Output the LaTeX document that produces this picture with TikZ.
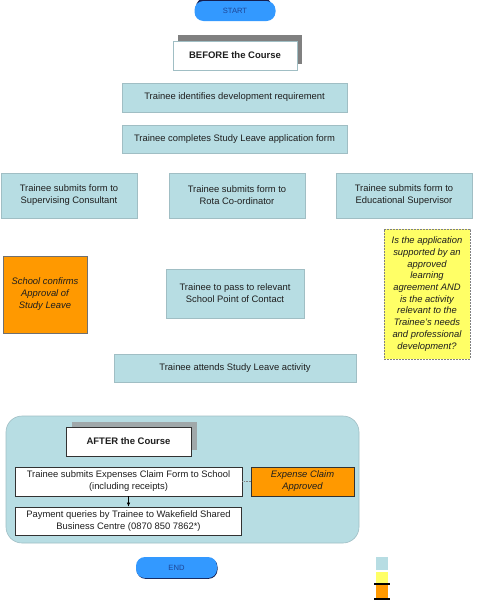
\documentclass[tikz,border=0pt]{standalone}
\usepackage{fontspec}
\setmainfont{Liberation Sans}
\usetikzlibrary{arrows.meta}
\definecolor{lblue}{RGB}{183,221,227}
\definecolor{lbborder}{RGB}{160,190,196}
\definecolor{orng}{RGB}{255,153,0}
\definecolor{yel}{RGB}{255,255,102}
\definecolor{startblue}{RGB}{51,153,255}
\definecolor{starttext}{RGB}{30,70,150}
\definecolor{navy}{RGB}{20,30,80}
\definecolor{shadowgray}{RGB}{128,128,128}
\definecolor{shadowgray2}{RGB}{160,168,170}
\definecolor{txt}{RGB}{30,30,30}
\definecolor{darkborder}{RGB}{50,50,50}
\begin{document}
\begin{tikzpicture}[x=1pt,y=-1pt,
  base/.style={inner sep=0pt, align=center, font=\fontsize{9.4}{12}\selectfont, text=txt},
  bluebox/.style={base, fill=lblue, draw=lbborder, line width=0.6pt},
  whitebox/.style={base, fill=white, draw=darkborder, line width=0.7pt},
  headbox/.style={base, fill=white, draw=lbborder, line width=0.6pt, font=\fontsize{9.5}{12}\selectfont\bfseries},
  shadowbox/.style={inner sep=0pt, fill=shadowgray, draw=none},
  orangebox/.style={base, fill=orng, draw=darkborder!70, line width=0.6pt, font=\fontsize{9.4}{12}\selectfont\itshape},
  yellowbox/.style={base, fill=yel, draw=shadowgray, dash pattern=on 2pt off 1pt, line width=0.5pt, font=\fontsize{9.4}{11.7}\selectfont\itshape},
  terminal/.style={base, fill=startblue, draw=none, rounded corners=9pt, text=starttext, font=\fontsize{7.6}{9}\selectfont},
  termshadow/.style={inner sep=0pt, fill=navy, draw=none, rounded corners=9pt},
  container/.style={inner sep=0pt, fill=lblue, draw=lbborder, line width=0.6pt, rounded corners=16pt},
  arrowline/.style={-{Latex[length=4pt,width=3.5pt]}, line width=0.6pt, black},
  dotline/.style={densely dotted, line width=0.6pt, shadowgray}
]
\useasboundingbox (0,0) rectangle (495,600);

% START
\node[termshadow, minimum width=76pt, minimum height=20pt] (startsh) at (234,8) {};
\node[terminal, minimum width=81pt, minimum height=20pt] (start) at (235,11) {START};

% BEFORE the Course
\node[shadowbox, minimum width=124pt, minimum height=29pt] (beforesh) at (240,49.5) {};
\node[headbox, minimum width=124pt, minimum height=29pt] (before) at (235,55.5) {BEFORE the Course};

\node[bluebox, minimum width=225pt, minimum height=29pt] (ident) at (234.5,97.5) {Trainee identifies development requirement};
\node[bluebox, minimum width=225pt, minimum height=28pt] (complete) at (234.5,139) {Trainee completes Study Leave application form};

\node[bluebox, minimum width=136pt, minimum height=45pt] (sup) at (69,195.5) {Trainee submits form to\\Supervising Consultant};
\node[bluebox, minimum width=136pt, minimum height=45pt] (rota) at (237,195.5) {Trainee submits form to\\Rota Co-ordinator};
\node[bluebox, minimum width=136pt, minimum height=45pt] (edu) at (404,195.5) {Trainee submits form to\\Educational Supervisor};

\node[orangebox, minimum width=84pt, minimum height=77pt] (school) at (45,294.5) {School confirms\\Approval of\\Study Leave};
\node[bluebox, minimum width=138pt, minimum height=49pt] (pass) at (235,293.5) {Trainee to pass to relevant\\School Point of Contact};
\node[yellowbox, minimum width=86pt, minimum height=130pt] (question) at (427,294) {Is the application\\supported by an\\approved\\learning\\agreement AND\\is the activity\\relevant to the\\Trainee's needs\\and professional\\development?};

\node[bluebox, minimum width=242pt, minimum height=28pt] (attend) at (235,368) {Trainee attends Study Leave activity};

% AFTER section
\node[container, minimum width=353pt, minimum height=127pt] (aftergroup) at (182.5,479.5) {};
\node[shadowbox, fill=shadowgray2, minimum width=125pt, minimum height=28pt] (aftersh) at (134,435.5) {};
\node[headbox, draw=darkborder, minimum width=125pt, minimum height=29pt] (after) at (128.5,441.5) {AFTER the Course};

\node[whitebox, minimum width=227pt, minimum height=29pt] (expenses) at (128.5,481.5) {Trainee submits Expenses Claim Form to School\\(including receipts)};
\node[orangebox, draw=darkborder, minimum width=103pt, minimum height=29pt] (approved) at (302.5,481.5) {Expense Claim\\Approved};
\node[whitebox, minimum width=226pt, minimum height=28pt] (payment) at (128.5,521) {Payment queries by Trainee to Wakefield Shared\\Business Centre (0870 850 7862*)};

\draw[arrowline] (expenses.south) -- (payment.north);
\draw[dotline] (expenses.east) -- (approved.west);

% END
\node[termshadow, minimum width=81pt, minimum height=21pt] (endsh) at (177,568.3) {};
\node[terminal, minimum width=81pt, minimum height=21pt] (end) at (176.5,567.5) {END};

% legend
\fill[lblue] (376,557) rectangle (388,570);
\fill[yel] (376,572) rectangle (388,583.5);
\fill[orng] (376,584.5) rectangle (388,598.5);
\draw[black, line width=1.6pt] (374,584) -- (390,584);
\draw[black, line width=1.6pt] (374,599.2) -- (390,599.2);
\end{tikzpicture}
\end{document}
